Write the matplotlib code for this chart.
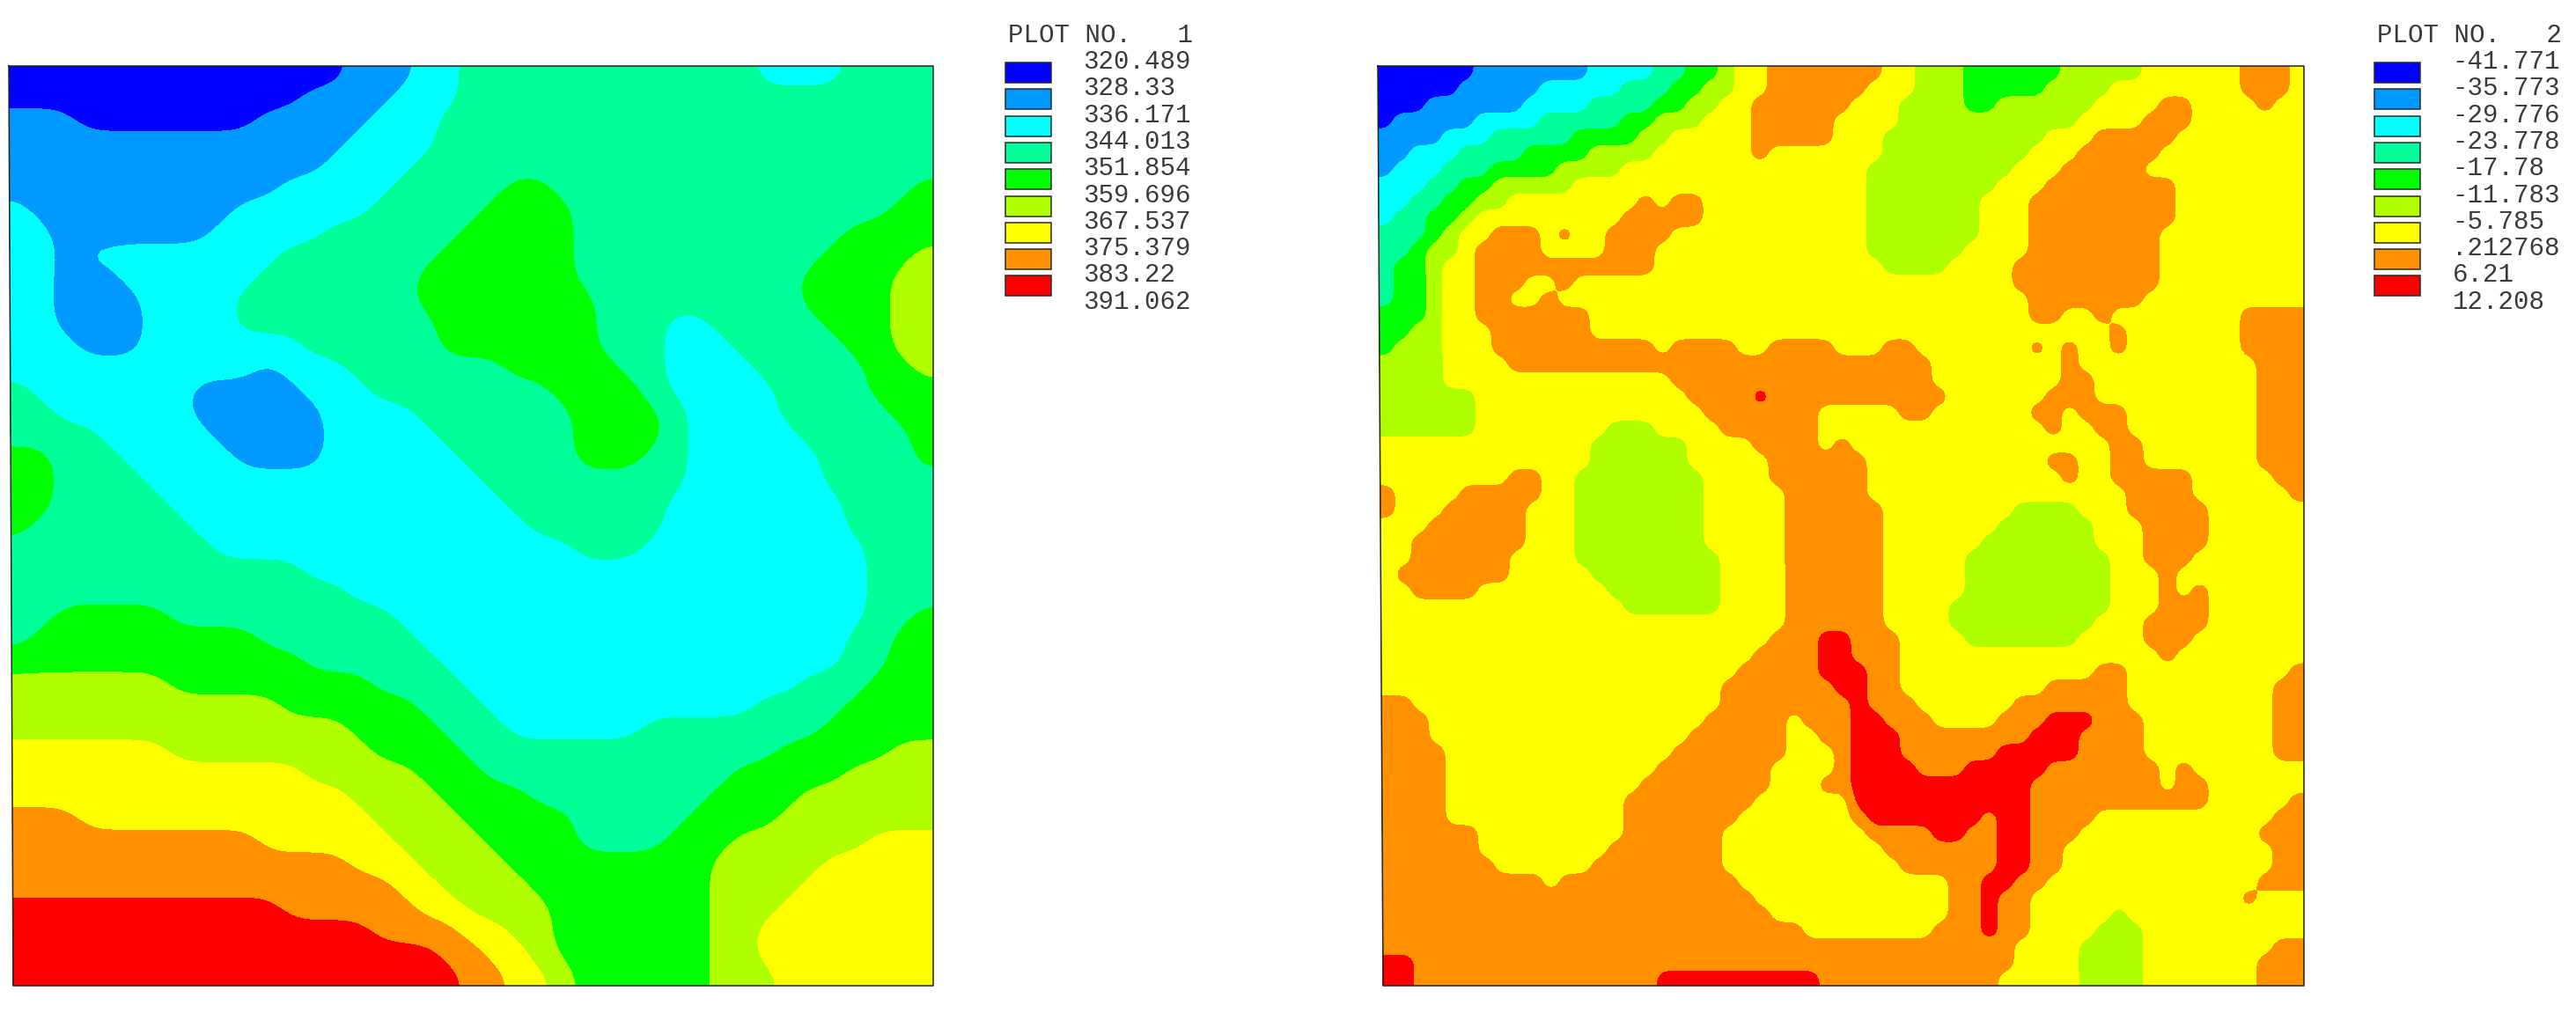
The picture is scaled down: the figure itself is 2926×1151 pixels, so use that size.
import numpy as np
import matplotlib as mpl
mpl.use("Agg")
import matplotlib.pyplot as plt

plt.rcParams["font.family"] = ["Liberation Mono", "DejaVu Sans Mono"]

band_colors = ["#0000ff", "#0099ff", "#00ffff", "#00ff99", "#00ff00",
               "#b0ff00", "#ffff00", "#ff9000", "#ff0000"]

left_labels = ["320.489", "328.33", "336.171", "344.013", "351.854",
               "359.696", "367.537", "375.379", "383.22", "391.062"]
right_labels = ["-41.771", "-35.773", "-29.776", "-23.778", "-17.78",
                "-11.783", "-5.785", ".212768", "6.21", "12.208"]

# band number at each grid node, run length coded as band:count, top row first
left_rows = [
    "0:15 1:3 2:2 3:13 2:4 3:4",
    "0:13 1:4 2:3 3:21",
    "1:3 0:8 1:5 2:3 3:22",
    "1:15 2:4 3:22",
    "1:14 2:4 3:23",
    "1:12 2:5 3:5 4:2 3:16 4:1",
    "2:1 1:9 2:6 3:5 4:4 3:14 4:2",
    "2:2 1:7 2:5 3:6 4:5 3:12 4:4",
    "2:2 1:1 2:9 3:7 4:6 3:11 4:4 5:1",
    "2:2 1:3 2:6 3:7 4:7 3:10 4:4 5:2",
    "2:2 1:4 2:4 3:8 4:8 3:9 4:4 5:2",
    "2:2 1:4 2:4 3:9 4:7 3:3 2:2 3:5 4:3 5:2",
    "2:3 1:3 2:7 3:6 4:7 3:3 2:3 3:5 4:2 5:2",
    "2:11 1:1 2:3 3:7 4:5 3:2 2:4 3:5 4:2 5:1",
    "3:1 2:7 1:5 2:3 3:8 4:4 3:1 2:5 3:4 4:3",
    "3:2 2:6 1:6 2:4 3:7 4:4 3:1 2:4 3:5 4:2",
    "3:4 2:5 1:5 2:5 3:6 4:4 3:1 2:5 3:5 4:1",
    "4:2 3:3 2:5 1:4 2:6 3:5 4:3 3:2 2:6 3:4 4:1",
    "4:2 3:4 2:15 3:9 2:6 3:5",
    "4:2 3:5 2:15 3:7 2:8 3:4",
    "4:1 3:7 2:15 3:6 2:8 3:4",
    "3:9 2:16 3:3 2:10 3:3",
    "3:13 2:25 3:3",
    "3:15 2:23 3:3",
    "3:2 4:5 3:10 2:21 3:2 4:1",
    "3:1 4:10 3:7 2:19 3:2 4:2",
    "4:13 3:6 2:18 3:2 4:2",
    "5:7 4:9 3:4 2:15 3:3 4:3",
    "5:12 4:6 3:3 2:12 3:4 4:4",
    "5:15 4:4 3:3 2:6 3:8 4:5",
    "6:7 5:9 4:4 3:14 4:5 5:2",
    "6:13 5:5 4:3 3:11 4:5 5:4",
    "6:15 5:4 4:4 3:8 4:4 5:6",
    "7:3 6:13 5:4 4:5 3:5 4:4 5:7",
    "7:11 6:6 5:4 4:4 3:4 4:3 5:6 6:3",
    "7:15 6:3 5:4 4:9 5:5 6:5",
    "7:17 6:2 5:4 4:8 5:4 6:6",
    "8:12 7:6 6:2 5:4 4:7 5:3 6:7",
    "8:16 7:4 6:2 5:2 4:7 5:2 6:8",
    "8:19 7:2 6:2 5:1 4:7 5:2 6:8",
    "8:20 7:2 6:2 5:1 4:6 5:3 6:7",
]

right_rows = [
    "0:6 1:7 2:4 3:2 4:2 5:1 6:2 7:4 7:3 6:2 5:3 4:6 5:5 6:6 7:3 6:1",
    "0:5 1:5 2:5 3:3 4:2 5:2 6:2 7:4 7:2 6:3 5:3 4:5 5:4 6:8 7:3 6:1",
    "0:3 1:6 2:4 3:4 4:2 5:2 6:2 7:5 7:1 6:3 5:4 4:2 5:6 6:4 7:2 6:4 7:1 6:2",
    "0:1 1:5 2:4 3:5 4:2 5:3 6:3 7:5 6:4 5:11 6:4 7:3 6:7",
    "1:4 2:3 3:5 4:4 5:2 6:5 7:5 6:3 5:10 6:3 7:5 6:8",
    "1:2 2:3 3:4 4:4 5:4 6:6 7:1 6:4 6:3 5:9 6:3 7:5 6:9",
    "1:1 2:3 3:3 4:4 5:4 6:13 6:2 5:9 6:3 7:5 6:10",
    "2:3 3:2 4:2 5:5 6:16 6:2 5:8 6:3 7:8 6:8",
    "2:2 3:2 4:2 5:2 6:8 7:1 6:1 7:2 6:8 6:2 5:7 6:3 7:9 6:8",
    "2:1 3:2 4:2 5:1 6:9 7:5 6:8 6:2 5:7 6:3 7:9 6:8",
    "3:3 4:1 5:1 6:2 7:3 6:1 7:1 6:2 7:4 6:10 6:2 5:7 6:3 7:8 6:9",
    "3:2 4:1 5:2 6:1 7:4 6:4 7:3 6:11 6:2 5:6 6:4 7:8 6:9",
    "3:1 4:2 5:1 6:2 7:11 6:11 6:3 5:4 6:4 7:9 6:9",
    "3:1 4:2 5:1 6:2 7:3 6:2 7:1 6:16 6:11 7:9 6:9",
    "3:1 4:2 5:1 6:2 7:2 6:2 7:1 6:17 6:12 7:7 6:10",
    "4:3 5:1 6:2 7:7 6:15 6:12 7:2 6:2 7:1 6:8 7:4",
    "4:2 5:2 6:3 7:6 6:15 6:17 7:1 6:7 7:4",
    "4:1 5:3 6:3 7:10 6:1 7:4 6:2 7:4 6:3 7:2 6:7 7:1 6:1 7:1 6:2 7:1 6:7 7:4",
    "5:4 6:4 7:20 7:6 6:8 7:1 6:11 7:3",
    "5:4 6:14 7:10 7:6 6:8 7:2 6:10 7:3",
    "5:6 6:13 7:4 8:1 7:4 7:7 6:6 7:3 6:10 7:3",
    "5:6 6:14 7:7 6:1 6:4 7:2 6:6 7:2 6:1 7:3 6:8 7:3",
    "5:6 6:8 5:3 6:4 7:6 6:1 6:13 7:1 6:2 7:2 6:8 7:3",
    "6:13 5:6 6:4 7:4 6:1 7:1 6:16 7:2 6:7 7:3",
    "6:13 5:6 6:5 7:4 7:2 6:11 7:2 6:2 7:2 6:7 7:3",
    "6:8 7:2 6:2 5:8 6:4 7:4 7:2 6:12 7:1 6:2 7:5 6:5 7:2",
    "7:1 6:4 7:5 6:2 5:8 6:5 7:3 7:2 6:16 7:4 6:6 7:1",
    "7:1 6:3 7:5 6:3 5:8 6:5 7:3 7:3 6:8 5:4 6:3 7:5 6:6",
    "6:3 7:6 6:3 5:8 6:5 7:3 7:3 6:7 5:6 6:3 7:4 6:6",
    "6:2 7:7 6:3 5:8 6:5 7:3 7:3 6:6 5:7 6:3 7:4 6:6",
    "6:2 7:6 6:4 5:9 6:4 7:3 7:3 6:5 5:9 6:2 7:3 6:7",
    "6:1 7:7 6:5 5:8 6:4 7:3 7:3 6:5 5:9 6:3 7:1 6:8",
    "6:2 7:4 6:8 5:7 6:4 7:3 7:3 6:5 5:9 6:3 7:1 6:1 7:1 6:6",
    "6:15 5:6 6:4 7:3 7:3 6:4 5:10 6:3 7:3 6:6",
    "6:25 7:3 7:3 6:4 5:9 6:3 7:4 6:6",
    "6:24 7:3 8:1 8:1 7:3 6:4 5:7 6:4 7:3 6:7",
    "6:23 7:4 8:1 8:1 7:3 6:16 7:1 6:8",
    "6:22 7:5 8:1 8:2 7:2 6:12 7:2 6:10 7:1",
    "6:21 7:7 8:2 7:2 6:9 7:5 6:9 7:2",
    "7:2 6:19 7:7 7:1 8:1 7:3 6:6 7:7 6:9 7:2",
    "7:3 6:17 7:5 6:1 7:2 7:1 8:2 7:3 6:4 7:3 8:3 7:3 6:8 7:2",
    "7:3 6:16 7:6 6:2 7:1 7:1 8:3 7:8 8:3 7:4 6:8 7:2",
    "7:4 6:14 7:7 6:3 7:1 8:3 7:6 8:5 7:4 6:8 7:2",
    "7:4 6:13 7:7 6:4 7:1 8:4 7:3 8:5 7:7 6:1 7:1 6:7",
    "7:4 6:12 7:8 6:3 7:1 7:1 8:11 7:8 6:1 7:2 6:6",
    "7:4 6:11 7:8 6:5 6:1 8:11 7:11 6:5 7:1",
    "7:4 6:11 7:7 6:6 6:1 7:1 8:7 7:1 8:2 7:4 6:11 7:2",
    "7:6 6:9 7:6 6:7 6:2 7:4 8:2 7:2 8:2 7:3 6:11 7:3",
    "7:6 6:8 7:7 6:7 6:3 7:7 8:2 7:2 6:13 7:2",
    "7:7 6:6 7:8 6:7 6:4 7:6 8:2 7:2 6:13 7:2",
    "7:10 6:1 7:11 6:6 6:7 7:2 8:2 7:2 6:13 7:3",
    "7:23 6:5 6:7 7:2 8:1 7:2 6:13 7:1 6:3",
    "7:24 6:4 6:7 7:2 8:1 7:2 6:5 5:1 6:8 6:3",
    "7:26 6:2 6:6 7:3 8:1 7:2 6:4 5:3 6:10",
    "7:28 7:11 6:4 5:4 6:8 7:2",
    "8:2 7:26 7:11 6:4 5:4 6:7 7:3",
    "8:2 7:15 8:10 7:1 7:10 6:5 5:4 6:7 7:3",
]


def decode(rows):
    out = []
    for row in rows:
        cells = []
        for run in row.split():
            band, count = run.split(":")
            cells += [int(band)] * int(count)
        out.append(cells)
    return np.array(out, dtype=float)


def soften(grid, scale=5, passes=3):
    # each node becomes a block, the blocks get blurred so the steps come out rounded
    g = np.kron(grid, np.ones((scale, scale)))
    k = np.ones(scale) / scale
    for _ in range(passes):
        g = np.pad(g, scale, mode="edge")
        g = np.apply_along_axis(lambda r: np.convolve(r, k, mode="same"), 1, g)
        g = np.apply_along_axis(lambda c: np.convolve(c, k, mode="same"), 0, g)
        g = g[scale:-scale, scale:-scale]
    return g


def draw_panel(ax, bands, labels, title, x_top, x_bot, x_right, legend_x):
    levels = np.array([float(s) for s in labels])
    mids = (levels[:-1] + levels[1:]) / 2
    # band number -> value in the middle of that band
    z = np.interp(bands, np.arange(9), mids)

    ny, nx = bands.shape
    y = np.linspace(75, 1120, ny)
    left = np.linspace(x_top, x_bot, ny)
    u = np.linspace(0, 1, nx)
    X = left[:, None] + (x_right - left[:, None]) * u[None, :]
    Y = np.repeat(y[:, None], nx, axis=1)
    ax.contourf(X, Y, z, levels=levels, colors=band_colors)
    ax.plot([x_top, x_right, x_right, x_bot, x_top], [75, 75, 1120, 1120, 75],
            color="#222222", lw=1.1)

    text_kw = dict(fontsize=21, color="#3a3a3a", va="center", ha="left")
    ax.text(legend_x, 40, title, **text_kw)
    for i, lab in enumerate(labels):
        ax.text(legend_x + 85.5, 70 + 30.3 * i, lab, **text_kw)
    for i, col in enumerate(band_colors):
        ax.add_patch(plt.Rectangle((legend_x - 3, 71 + 30.3 * i), 52, 23, facecolor=col,
                                   edgecolor="#2a2a2a", lw=1.1))


fig = plt.figure(figsize=(29.26, 11.51), dpi=100)
ax = fig.add_axes([0, 0, 1, 1])
ax.set_xlim(0, 2926)
ax.set_ylim(1151, 0)
ax.axis("off")

draw_panel(ax, soften(decode(left_rows), passes=6), left_labels, "PLOT NO.   1", 10, 15, 1060, 1145)
draw_panel(ax, soften(decode(right_rows), passes=2), right_labels, "PLOT NO.   2", 1565, 1571, 2617, 2700)

fig.savefig("out.png", dpi=100)
